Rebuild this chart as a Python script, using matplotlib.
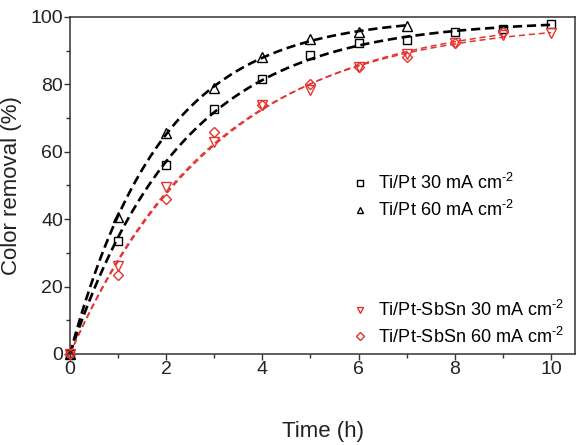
import numpy as np
import matplotlib
matplotlib.use("Agg")
import matplotlib.pyplot as plt
from matplotlib.ticker import MultipleLocator
from matplotlib.lines import Line2D

plt.rcParams['font.family'] = ['Liberation Sans', 'DejaVu Sans']
plt.rcParams['mathtext.fontset'] = 'custom'
plt.rcParams['mathtext.rm'] = 'Liberation Sans'
plt.rcParams['mathtext.default'] = 'regular'

# data
t_pt30 = [0, 1, 2, 3, 4, 5, 6, 7, 8, 9, 10]
y_pt30 = [0, 33.5, 56, 72.7, 81.7, 88.6, 92.3, 93.2, 95.5, 96.4, 97.8]
t_pt60 = [0, 1, 2, 3, 4, 5, 6, 7]
y_pt60 = [0, 40.7, 65.6, 79, 88.2, 93.5, 95.5, 97.2]
t_sb30 = [0, 1, 2, 3, 4, 5, 6, 7, 8, 9, 10]
y_sb30 = [0, 26, 49.6, 63, 74, 78.2, 85, 89, 92.3, 94.7, 95.3]
t_sb60 = [0, 1, 2, 3, 4, 5, 6, 7, 8, 9]
y_sb60 = [0, 23.5, 46, 66, 74, 80, 85, 88.2, 92.3, 95.5]

labels = [r'Ti/Pt 30 mA cm$^{\text{-2}}$', r'Ti/Pt 60 mA cm$^{\text{-2}}$',
          r'Ti/Pt-SbSn 30 mA cm$^{\text{-2}}$', r'Ti/Pt-SbSn 60 mA cm$^{\text{-2}}$']

red = '#e3342f'

def fit(t, y):
    t = np.asarray(t, float); y = np.asarray(y, float)
    best = None
    for A in np.linspace(85, 110, 251):
        for k in np.linspace(0.05, 1.2, 461):
            e = np.sum((A * (1 - np.exp(-k * t)) - y) ** 2)
            if best is None or e < best[0]:
                best = (e, A, k)
    return best[1], best[2]

fig = plt.figure(figsize=(5.78, 4.45), dpi=100)
ax = fig.add_axes([0.121, 0.2045, 0.874, 0.7575])

series = [
    (t_pt30, y_pt30, 's', 'k', 1.9, (3.5, 1.8), 6),
    (t_pt60, y_pt60, '^', 'k', 1.9, (3.5, 1.8), 7),
    (t_sb30, y_sb30, 'v', red, 1.1, (4, 2.5), 7),
    (t_sb60, y_sb60, 'D', red, 1.1, (4, 2.5), 5.5),
]
for t, y, m, c, lw, dash, ms in series:
    A, k = fit(t, y)
    tt = np.linspace(0, max(t), 200)
    ax.plot(tt, A * (1 - np.exp(-k * tt)), color=c, lw=lw, dashes=dash, zorder=2)
for t, y, m, c, lw, dash, ms in series:
    ax.plot(t, y, m, mfc='none', mec=c, ms=ms, mew=1.0, clip_on=False, zorder=3)

ax.set_xlim(0, 10.5)
ax.set_ylim(0, 100)
ax.xaxis.set_major_locator(MultipleLocator(2))
ax.xaxis.set_minor_locator(MultipleLocator(1))
ax.yaxis.set_major_locator(MultipleLocator(20))
ax.yaxis.set_minor_locator(MultipleLocator(10))
ax.tick_params(which='both', direction='out', top=False, right=False,
               labelsize=14, color='#333333', labelcolor='#222222')
ax.tick_params(which='major', length=4, width=1, pad=1)
ax.tick_params(which='minor', length=3, width=1)
for s in ax.spines.values():
    s.set_color('#333333')
    s.set_linewidth(1.1)
ax.set_xlabel('Time (h)', fontsize=16, labelpad=31, color='#222222')
ax.set_ylabel('Color removal (%)', fontsize=16, labelpad=6, color='#222222')

h1 = [Line2D([], [], ls='none', marker='s', mfc='none', mec='k', ms=5, mew=1),
      Line2D([], [], ls='none', marker='^', mfc='none', mec='k', ms=5, mew=1)]
h2 = [Line2D([], [], ls='none', marker='v', mfc='none', mec=red, ms=5, mew=1),
      Line2D([], [], ls='none', marker='D', mfc='none', mec=red, ms=4.5, mew=1)]
kw = dict(frameon=False, fontsize=13, handlelength=1, handletextpad=0.5,
          labelspacing=0.35, borderaxespad=0, borderpad=0)
leg1 = ax.legend(h1, labels[:2], loc='upper left',
                 bbox_to_anchor=(0.557, 0.536), **kw)
ax.add_artist(leg1)
ax.legend(h2, labels[2:], loc='upper left', bbox_to_anchor=(0.557, 0.16), **kw)

fig.savefig('out.png', dpi=100)
